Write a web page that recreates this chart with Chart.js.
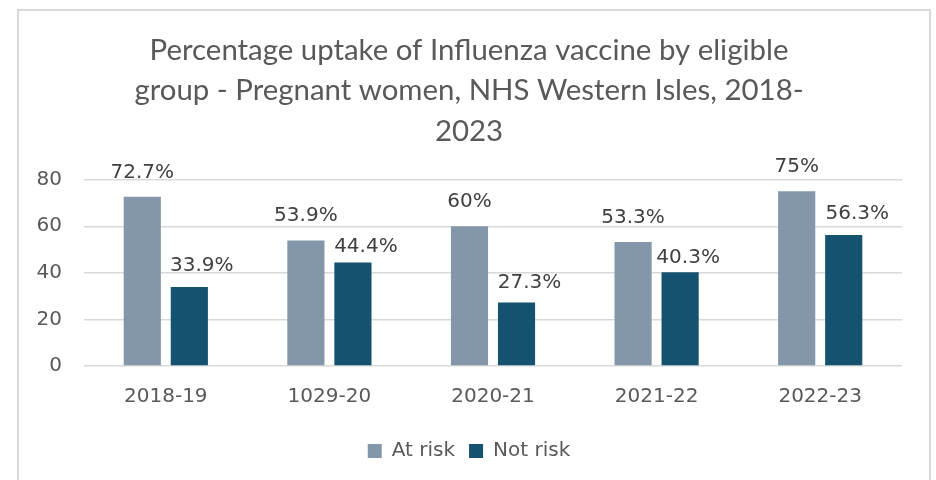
<!DOCTYPE html>
<html>
<head>
<meta charset="utf-8">
<script src="https://cdn.jsdelivr.net/npm/chart.js@4"></script>
<style>
  html, body { margin: 0; padding: 0; background: #fff; overflow: hidden; }
  #wrap { position: relative; width: 936px; height: 480px; }
  #frame { position: absolute; left: 17px; top: 9px; width: 914px; height: 500px; border: 2px solid #d9d9d9; box-sizing: border-box; pointer-events: none; }
</style>
</head>
<body>
<div id="wrap">
  <canvas id="chart" width="936" height="480"></canvas>
  <div id="frame"></div>
</div>
<script>
// Datos
const seasons = ['2018-19', '1029-20', '2020-21', '2021-22', '2022-23'];
const atRisk = [72.7, 53.9, 60, 53.3, 75];
const notRisk = [33.9, 44.4, 27.3, 40.3, 56.3];
const yTicks = [0, 20, 40, 60, 80];
const titleLines = [
  'Percentage uptake of Influenza vaccine by eligible',
  'group - Pregnant women, NHS Western Isles, 2018-',
  '2023'
];

const textFont = "'DejaVu Sans', sans-serif";

// Etiquetas encima de cada barra (desplazamientos como en el original)
const barLabels = {
  id: 'barLabels',
  afterDatasetsDraw(chart, args, opts) {
    const ctx = chart.ctx;
    ctx.save();
    ctx.font = '20px ' + textFont;
    ctx.fillStyle = '#404040';
    ctx.textAlign = 'center';
    ctx.textBaseline = 'alphabetic';
    chart.data.datasets.forEach((ds, i) => {
      const shifts = (opts.shift && opts.shift[i]) || [];
      chart.getDatasetMeta(i).data.forEach((bar, j) => {
        const s = shifts[j] || [0, 19];
        ctx.fillText(ds.data[j] + '%', bar.x + s[0], bar.y - s[1]);
      });
    });
    ctx.restore();
  }
};

new Chart(document.getElementById('chart'), {
  type: 'bar',
  data: {
    labels: seasons,
    datasets: [
      { label: 'At risk', data: atRisk, backgroundColor: '#8497aa' },
      { label: 'Not risk', data: notRisk, backgroundColor: '#14526f' }
    ]
  },
  options: {
    responsive: false,
    animation: false,
    layout: { padding: { left: 36, right: 34, top: 0, bottom: 9 } },
    datasets: { bar: { categoryPercentage: 0.575, barPercentage: 0.79 } },
    scales: {
      y: {
        min: 0, max: 80,
        afterBuildTicks: axis => { axis.ticks = yTicks.map(v => ({ value: v })); },
        afterFit: axis => { axis.width = 48; },
        border: { display: false },
        grid: { color: '#d9d9d9', lineWidth: 1.5, drawTicks: false },
        ticks: { padding: 22, color: '#595959', font: { family: textFont, size: 20 } }
      },
      x: {
        afterFit: axis => { axis.height = 61; },
        border: { display: false },
        grid: { display: false, drawTicks: false },
        ticks: { padding: 19, color: '#595959', font: { family: textFont, size: 20 } }
      }
    },
    plugins: {
      title: {
        display: true,
        text: titleLines,
        color: '#595959',
        font: { family: "Lato, sans-serif", size: 29.4, weight: 'normal', lineHeight: 1.38 },
        padding: { top: 30, bottom: 28 }
      },
      legend: {
        position: 'bottom',
        labels: {
          boxWidth: 14, boxHeight: 14, padding: 14,
          color: '#595959',
          font: { family: textFont, size: 20 }
        }
      },
      tooltip: { enabled: false },
      barLabels: {
        shift: [
          [],
          [[12.5, 16], [13, 10.6], [13, 14], [8, 9], [13.5, 15.7]]
        ]
      }
    }
  },
  plugins: [barLabels]
});
</script>
</body>
</html>
